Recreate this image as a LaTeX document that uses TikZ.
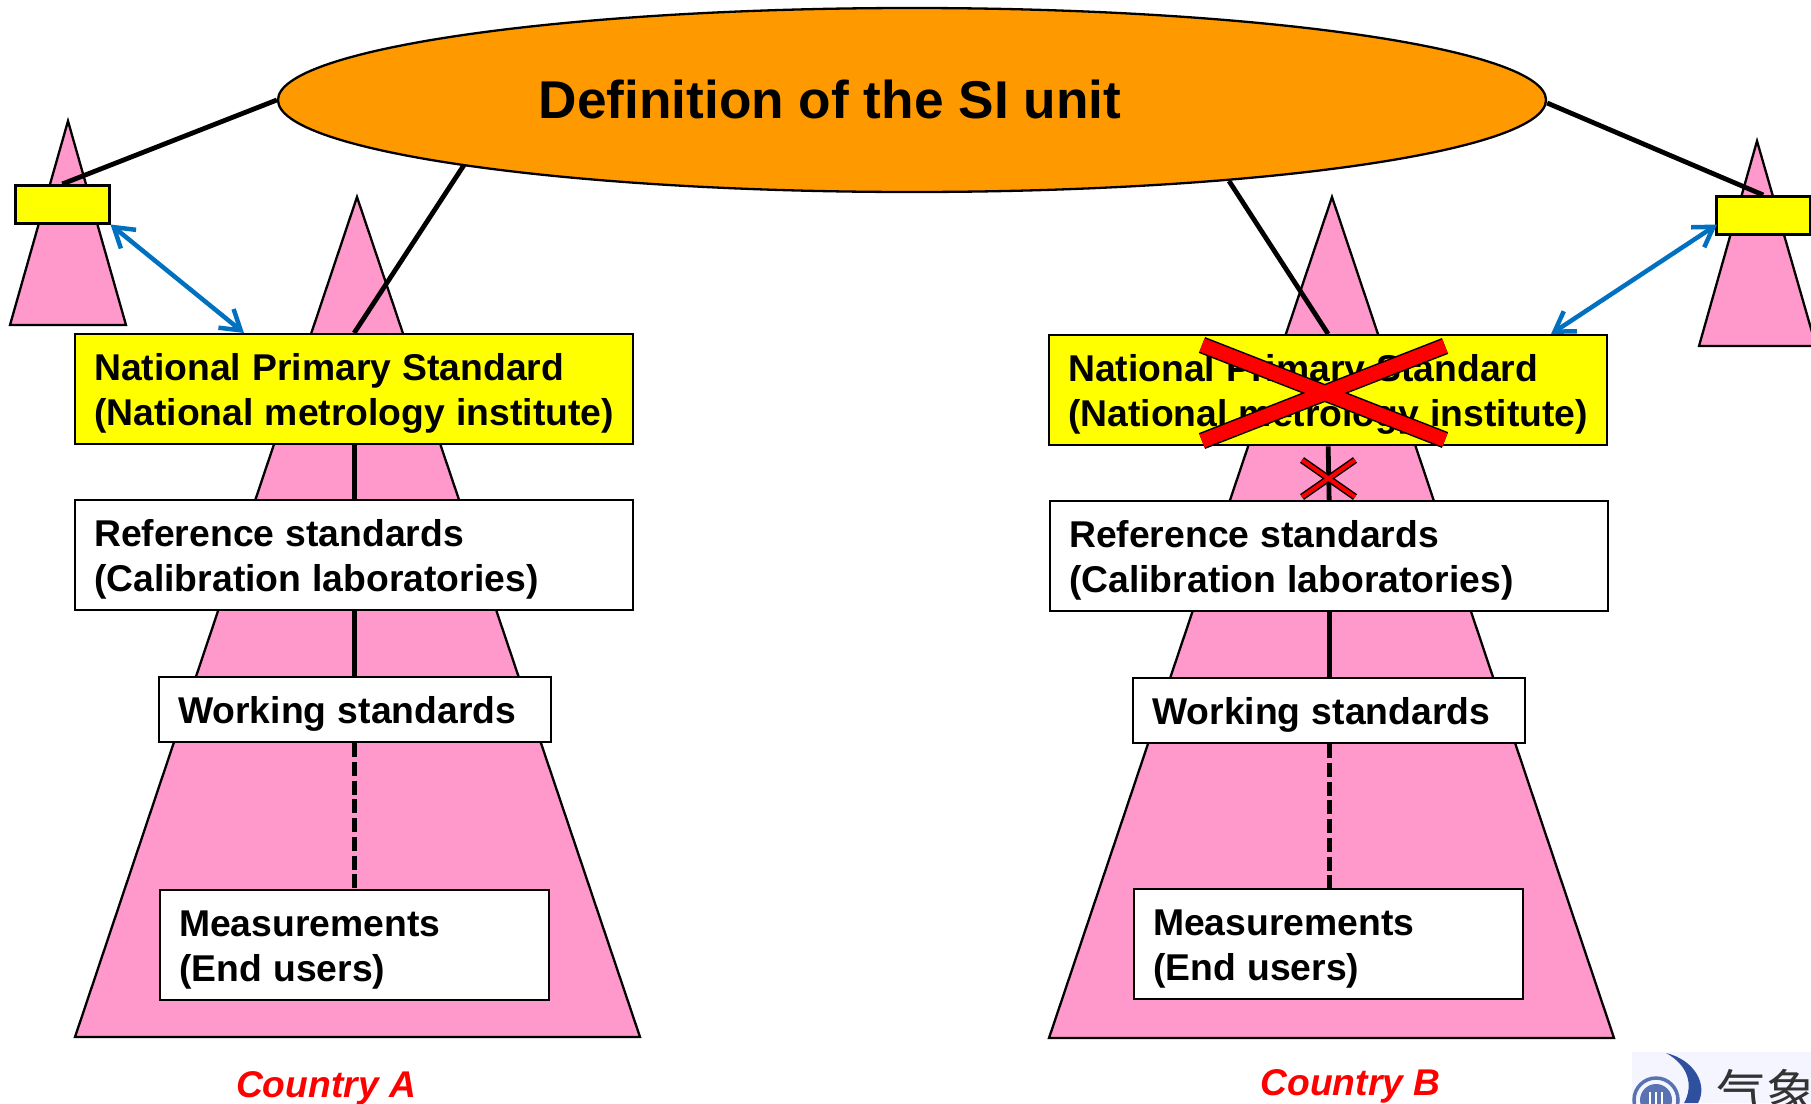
\documentclass[tikz,border=0pt]{standalone}
\usepackage{fontspec}
\setmainfont{Liberation Sans}
\newfontfamily\cjkfont{Noto Sans CJK SC}
\usetikzlibrary{arrows.meta,calc,shapes.geometric}
\definecolor{pinkfill}{HTML}{FF99CC}
\definecolor{skyorange}{HTML}{FF9900}
\definecolor{linkblue}{HTML}{0070C0}
\definecolor{logoblue}{HTML}{2F4F9F}
\definecolor{boxyellow}{HTML}{FFFF00}
\definecolor{crossred}{HTML}{FF0000}
\tikzset{
  pyramid/.style={draw=black,fill=pinkfill,line width=2.3pt,line join=miter},
  boxbase/.style={draw=black,line width=2.3pt,rectangle,inner xsep=19pt,inner ysep=0pt,align=left,anchor=north west,
    font=\fontsize{37.3}{45}\selectfont\bfseries,execute at begin node={\spaceskip=11.2pt\relax\hyphenpenalty=10000\relax\rule{0pt}{36pt}}},
  natbox/.style={boxbase,fill=boxyellow,text width=520pt,minimum height=110pt},
  refbox/.style={boxbase,fill=white,text width=520pt,minimum height=110pt},
  workbox/.style={boxbase,fill=white,text width=354pt,minimum height=65pt},
  measbox/.style={boxbase,fill=white,text width=351pt,minimum height=110pt},
  tinybox/.style={draw=black,fill=boxyellow,line width=2.5pt,rectangle,inner sep=0pt,anchor=north west,minimum width=94pt,minimum height=38pt},
  link/.style={draw=black,line width=4.8pt},
  linkdash/.style={draw=black,line width=4.7pt,dash pattern=on 14pt off 4.7pt},
  compare/.style={draw=linkblue,line width=4.5pt,{Straight Barb[length=19pt,width=24pt,line width=4.5pt]}-{Straight Barb[length=19pt,width=24pt,line width=4.5pt]}},
  country/.style={text=crossred,font=\fontsize{37.2}{44}\selectfont\bfseries\itshape,anchor=base},
}
\begin{document}
\begin{tikzpicture}[x=1pt,y=-1pt]
\useasboundingbox (0,0) rectangle (1811,1103);
\clip (0,0) rectangle (1811,1103);
% pyramids
\draw[pyramid] (357,197) -- (640,1037) -- (75,1037) -- cycle;
\draw[pyramid] (1332,197) -- (1614,1038) -- (1049,1038) -- cycle;
\draw[pyramid] (68,121) -- (126,325) -- (10,325) -- cycle;
\draw[pyramid] (1757,141) -- (1816,346) -- (1699,346) -- cycle;
% ellipse
\node[ellipse,draw=black,fill=skyorange,line width=2.3pt,minimum width=1268pt,minimum height=184pt,inner sep=0pt] (sky) at (912,100) {};
\node[font=\fontsize{53.2}{60}\selectfont\bfseries,anchor=base] (skytext) at (830,118) {Definition of the SI unit};
% boxes
\node[natbox] (natA) at (74,333) {National Primary Standard\\(National metrology institute)};
\node[refbox] (refA) at (74,499) {Reference standards\\(Calibration laboratories)};
\node[workbox] (workA) at (158,676) {Working standards};
\node[measbox] (measA) at (159,889) {Measurements\\(End users)};
\node[natbox] (natB) at (1048,334) {National Primary Standard\\(National metrology institute)};
\node[refbox] (refB) at (1049,500) {Reference standards\\(Calibration laboratories)};
\node[workbox] (workB) at (1132,677) {Working standards};
\node[measbox] (measB) at (1133,888) {Measurements\\(End users)};
\node[tinybox] (tinyA) at (14,184) {};
\node[tinybox] (tinyB) at (1715,195) {};
% connectors
\coordinate (skyLow) at ($(sky.center)+(-448,65)$);
\coordinate (skyHigh) at ($(sky.center)+(317,81)$);
\draw[link] (sky.west) -- (tinyA.north);
\draw[link] ($(sky.east)+(0,3)$) -- (tinyB.north);
\draw[link] (skyLow) -- (natA.north);
\draw[link] (skyHigh) -- (natB.north);
\draw[link] (natA.south) -- (refA.north);
\draw[link] (refA.south) -- (workA.north -| refA.south);
\draw[linkdash] (workA.south -| refA.south) -- (measA.north -| refA.south);
\draw[link] (natB.south) -- (refB.north);
\draw[link] (refB.south) -- (workB.north -| refB.south);
\draw[linkdash] (workB.south -| refB.south) -- (measB.north -| refB.south);
\coordinate (hitA) at ($(natA.north west)+(170,0)$);
\coordinate (hitB) at ($(natB.north west)+(503,0)$);
\coordinate (tipB) at ($(tinyB.south west)+(2,-11)$);
\draw[compare] (tinyA.south east) -- (hitA);
\draw[compare] (tipB) -- (hitB);
% crosses
\coordinate (xa) at (1202,345); \coordinate (xb) at (1445,440);
\coordinate (xc) at (1445,346); \coordinate (xd) at (1202,441);
\draw[black,line width=17pt] (xa) -- (xb) (xc) -- (xd);
\draw[crossred,line width=14pt] (xa) -- (xb) (xc) -- (xd);
\coordinate (ya) at (1302,460); \coordinate (yb) at (1355,497);
\coordinate (yc) at (1355,460); \coordinate (yd) at (1302,497);
\draw[black,line width=7pt] (ya) -- (yb) (yc) -- (yd);
\draw[crossred,line width=4pt] (ya) -- (yb) (yc) -- (yd);
% captions
\node[country] (capA) at (326,1097) {Country A};
\node[country] (capB) at (1350.5,1095) {Country B};
% logo
\fill[white!96!blue] (1632,1052) rectangle (1811,1103);
\draw[logoblue!80,line width=3.5pt] (1656,1100) circle (22);
\fill[logoblue!80] (1656,1100) circle (16);
\foreach \dx in {-6,0,6} \draw[white,line width=2.5pt] (1656+\dx,1092) -- (1656+\dx,1112);
\fill[logoblue] (1666,1053) .. controls (1695,1060) and (1708,1085) .. (1698,1103) -- (1684,1103) .. controls (1694,1085) and (1688,1065) .. (1666,1053) -- cycle;
\node[font=\fontsize{50}{56}\selectfont\cjkfont,anchor=base west,text=black!80] (logotext) at (1713,1111) {气象};
\end{tikzpicture}
\end{document}
